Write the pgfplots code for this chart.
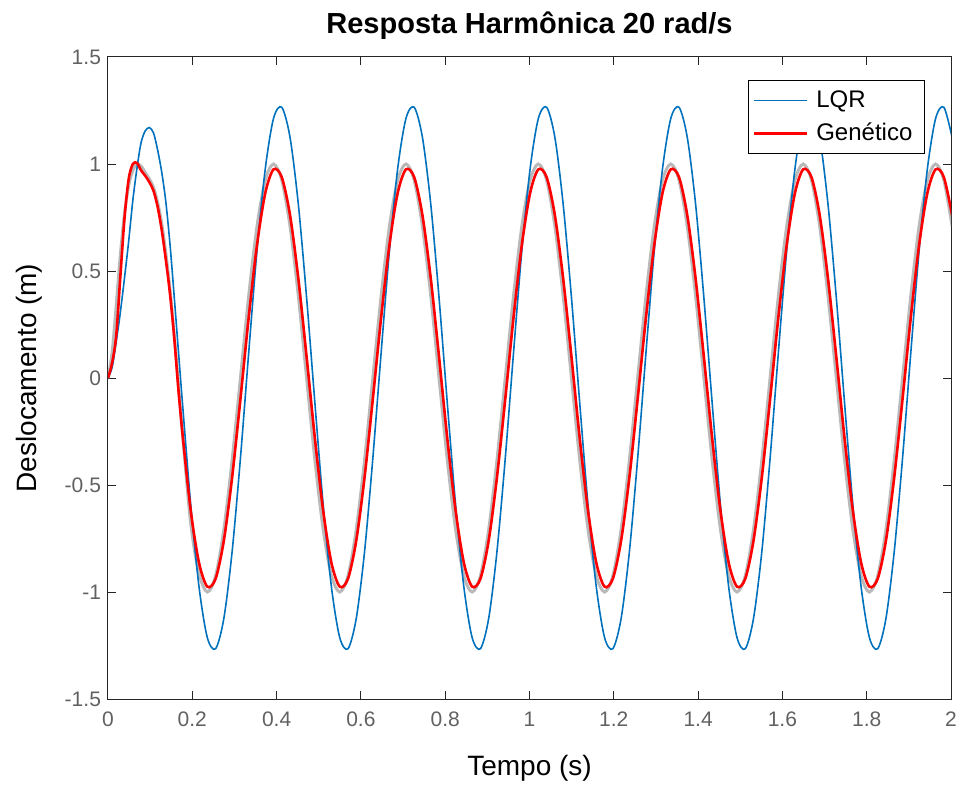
\documentclass[border=0pt]{standalone}
\usepackage{fontspec}
\setmainfont{Liberation Sans}
\usepackage{pgfplots}
\pgfplotsset{compat=1.18}
\usepackage{pgfplotstable}

\definecolor{mblue}{rgb}{0,0.447,0.741}
\definecolor{axcol}{rgb}{0.15,0.15,0.15}

% t  LQR  Genetico  ref (gray)
\pgfplotstableread{
t lqr gen ref
0.0000 0.000 0.000 0.000
0.0098 0.050 0.070 0.120
0.0196 0.170 0.200 0.340
0.0295 0.310 0.480 0.580
0.0393 0.470 0.750 0.770
0.0491 0.640 0.930 0.900
0.0589 0.830 1.000 0.970
0.0687 0.980 1.005 1.000
0.0785 1.100 0.970 0.990
0.0884 1.155 0.945 0.960
0.0982 1.170 0.915 0.930
0.1080 1.145 0.875 0.890
0.1178 1.065 0.800 0.820
0.1276 0.960 0.690 0.720
0.1374 0.820 0.550 0.580
0.1473 0.620 0.390 0.410
0.1571 0.380 0.190 0.200
0.1669 0.130 -0.050 -0.030
0.1767 -0.118 -0.260 -0.260
0.1963 -0.593 -0.620 -0.680
0.2160 -0.977 -0.864 -0.915
0.2356 -1.213 -0.975 -1.000
0.2553 -1.265 -0.938 -0.924
0.2749 -1.123 -0.759 -0.707
0.2945 -0.811 -0.464 -0.383
0.3142 -0.375 -0.098 0.000
0.3338 0.118 0.283 0.383
0.3534 0.593 0.620 0.707
0.3731 0.977 0.864 0.924
0.3927 1.213 0.975 1.000
0.4123 1.265 0.938 0.924
0.4320 1.123 0.759 0.707
0.4516 0.811 0.464 0.383
0.4712 0.375 0.098 0.000
0.4909 -0.118 -0.283 -0.383
0.5105 -0.593 -0.620 -0.707
0.5301 -0.977 -0.864 -0.924
0.5498 -1.213 -0.975 -1.000
0.5694 -1.265 -0.938 -0.924
0.5890 -1.123 -0.759 -0.707
0.6087 -0.811 -0.464 -0.383
0.6283 -0.375 -0.098 0.000
0.6480 0.118 0.283 0.383
0.6676 0.593 0.620 0.707
0.6872 0.977 0.864 0.924
0.7069 1.213 0.975 1.000
0.7265 1.265 0.938 0.924
0.7461 1.123 0.759 0.707
0.7658 0.811 0.464 0.383
0.7854 0.375 0.098 0.000
0.8050 -0.118 -0.283 -0.383
0.8247 -0.593 -0.620 -0.707
0.8443 -0.977 -0.864 -0.924
0.8639 -1.213 -0.975 -1.000
0.8836 -1.265 -0.938 -0.924
0.9032 -1.123 -0.759 -0.707
0.9228 -0.811 -0.464 -0.383
0.9425 -0.375 -0.098 0.000
0.9621 0.118 0.283 0.383
0.9817 0.593 0.620 0.707
1.0014 0.977 0.864 0.924
1.0210 1.213 0.975 1.000
1.0407 1.265 0.938 0.924
1.0603 1.123 0.759 0.707
1.0799 0.811 0.464 0.383
1.0996 0.375 0.098 0.000
1.1192 -0.118 -0.283 -0.383
1.1388 -0.593 -0.620 -0.707
1.1585 -0.977 -0.864 -0.924
1.1781 -1.213 -0.975 -1.000
1.1977 -1.265 -0.938 -0.924
1.2174 -1.123 -0.759 -0.707
1.2370 -0.811 -0.464 -0.383
1.2566 -0.375 -0.098 0.000
1.2763 0.118 0.283 0.383
1.2959 0.593 0.620 0.707
1.3155 0.977 0.864 0.924
1.3352 1.213 0.975 1.000
1.3548 1.265 0.938 0.924
1.3744 1.123 0.759 0.707
1.3941 0.811 0.464 0.383
1.4137 0.375 0.098 0.000
1.4334 -0.118 -0.283 -0.383
1.4530 -0.593 -0.620 -0.707
1.4726 -0.977 -0.864 -0.924
1.4923 -1.213 -0.975 -1.000
1.5119 -1.265 -0.938 -0.924
1.5315 -1.123 -0.759 -0.707
1.5512 -0.811 -0.464 -0.383
1.5708 -0.375 -0.098 0.000
1.5904 0.118 0.283 0.383
1.6101 0.593 0.620 0.707
1.6297 0.977 0.864 0.924
1.6493 1.213 0.975 1.000
1.6690 1.265 0.938 0.924
1.6886 1.123 0.759 0.707
1.7082 0.811 0.464 0.383
1.7279 0.375 0.098 0.000
1.7475 -0.118 -0.283 -0.383
1.7671 -0.593 -0.620 -0.707
1.7868 -0.977 -0.864 -0.924
1.8064 -1.213 -0.975 -1.000
1.8261 -1.265 -0.938 -0.924
1.8457 -1.123 -0.759 -0.707
1.8653 -0.811 -0.464 -0.383
1.8850 -0.375 -0.098 0.000
1.9046 0.118 0.283 0.383
1.9242 0.593 0.620 0.707
1.9439 0.977 0.864 0.924
1.9635 1.213 0.975 1.000
1.9831 1.265 0.938 0.924
2.0028 1.123 0.759 0.707
}\data

\begin{document}
\begin{tikzpicture}
\useasboundingbox (-54pt,-44pt) rectangle (426.5pt,349.5pt);
\begin{axis}[
    at={(0,0)}, anchor=south west,
    scale only axis,
    width=421.5pt, height=321pt,
    xmin=0, xmax=2, ymin=-1.5, ymax=1.5,
    xtick={0,0.2,0.4,0.6,0.8,1,1.2,1.4,1.6,1.8,2},
    xticklabels={0,0.2,0.4,0.6,0.8,1,1.2,1.4,1.6,1.8,2},
    ytick={-1.5,-1,-0.5,0,0.5,1,1.5},
    yticklabels={-1.5,-1,-0.5,0,0.5,1,1.5},
    tick align=inside,
    tick pos=both,
    major tick length=4pt,
    axis line style={axcol, line width=0.5pt},
    every tick/.style={axcol, line width=0.5pt},
    tick label style={font=\fontsize{10.5}{12}\selectfont, text=black!62},
    xticklabel style={yshift=-3pt},
    title={Resposta Harmônica 20 rad/s},
    title style={font=\bfseries\fontsize{14.5}{17}\selectfont,
        at={(axis description cs:0.5,1)}, anchor=base, yshift=5.5pt},
    xlabel={Tempo (s)},
    xlabel style={font=\fontsize{14}{16}\selectfont,
        at={(axis description cs:0.5,0)}, anchor=base, yshift=-38pt},
    ylabel={Deslocamento (m)},
    ylabel style={font=\fontsize{14}{16}\selectfont,
        at={(axis description cs:-0.0854,0.5)}, anchor=base},
    legend cell align=left,
    legend image code/.code={\draw[#1] (0pt,0pt) -- (26.5pt,0pt);},
    legend style={at={(axis description cs:0.969,0.964)}, anchor=north east,
        draw=black, line width=0.5pt, fill=white,
        font=\fontsize{12}{14}\selectfont,
        inner xsep=2pt, inner ysep=1.75pt,
        nodes={inner xsep=4pt, inner ysep=3.2pt}},
]
\addplot[gray!55, line width=1.5pt, smooth, forget plot] table[x=t, y=ref] {\data};
\addplot[mblue, line width=0.8pt, smooth] table[x=t, y=lqr] {\data};
\addlegendentry{LQR}
\addplot[red, line width=1.3pt, smooth] table[x=t, y=gen] {\data};
\addlegendentry{Genético}
\end{axis}
\end{tikzpicture}
\end{document}
